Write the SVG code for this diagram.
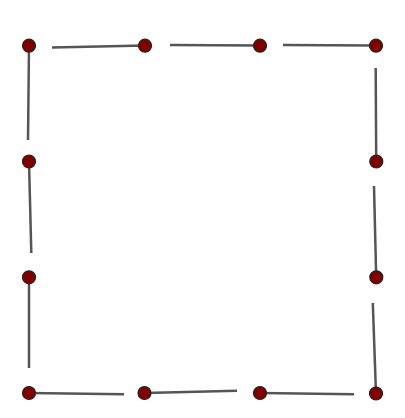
<svg xmlns="http://www.w3.org/2000/svg" width="405" height="418" viewBox="0 0 405 418">
<style>
.e{stroke:#555;stroke-width:2.5;fill:none;stroke-linecap:butt}
.n{fill:#800000;stroke:#222;stroke-width:1.2}
</style>
<rect width="405" height="418" fill="#fff"/>
<g id="edges">
<line class="e" x1="52" y1="47.5" x2="145" y2="45.5"/>
<line class="e" x1="170" y1="45" x2="260" y2="45.5"/>
<line class="e" x1="283" y1="45" x2="376" y2="45.5"/>
<line class="e" x1="29" y1="45.5" x2="28" y2="140"/>
<line class="e" x1="29" y1="161.5" x2="31.3" y2="253"/>
<line class="e" x1="29" y1="277.5" x2="29" y2="368"/>
<line class="e" x1="29" y1="393" x2="124" y2="394.3"/>
<line class="e" x1="145" y1="393" x2="237" y2="390.7"/>
<line class="e" x1="260" y1="393" x2="354" y2="394.3"/>
<line class="e" x1="375.7" y1="68" x2="376.2" y2="161.5"/>
<line class="e" x1="374" y1="186" x2="376.2" y2="277.5"/>
<line class="e" x1="372.8" y1="303" x2="376" y2="393.5"/>
</g>
<g id="n1"><circle class="n" cx="29" cy="45.7" r="6.5"/></g>
<g id="n2"><circle class="n" cx="145" cy="45.7" r="6.5"/></g>
<g id="n3"><circle class="n" cx="260" cy="45.7" r="6.5"/></g>
<g id="n4"><circle class="n" cx="376" cy="45.7" r="6.5"/></g>
<g id="n5"><circle class="n" cx="29" cy="161.5" r="6.5"/></g>
<g id="n6"><circle class="n" cx="376.3" cy="161.5" r="6.5"/></g>
<g id="n7"><circle class="n" cx="29" cy="277.3" r="6.5"/></g>
<g id="n8"><circle class="n" cx="376.3" cy="277.3" r="6.5"/></g>
<g id="n9"><circle class="n" cx="29" cy="393" r="6.5"/></g>
<g id="n10"><circle class="n" cx="144.5" cy="393" r="6.5"/></g>
<g id="n11"><circle class="n" cx="260" cy="393" r="6.5"/></g>
<g id="n12"><circle class="n" cx="376" cy="393.5" r="6.5"/></g>
</svg>
